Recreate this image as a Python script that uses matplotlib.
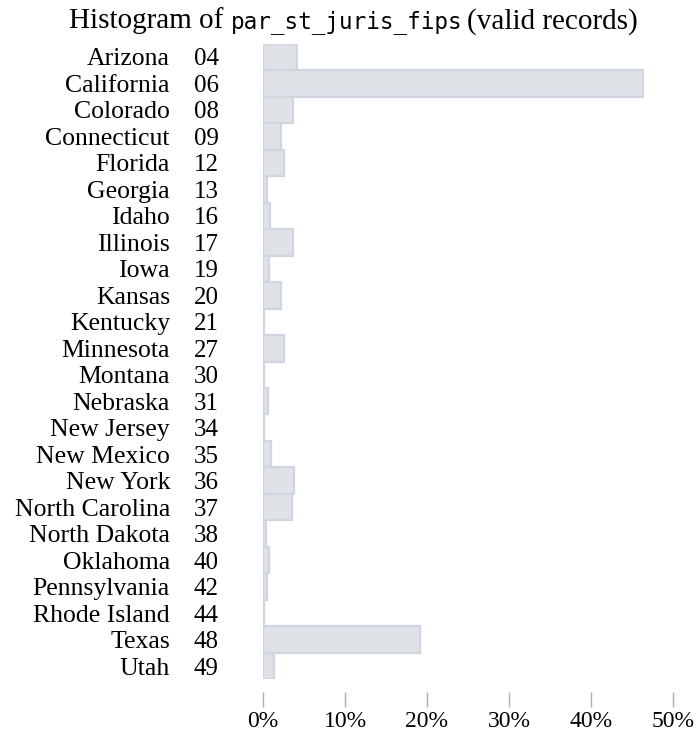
import matplotlib
matplotlib.use("Agg")
import matplotlib.pyplot as plt
import matplotlib.transforms as mtransforms

states = ["Arizona", "California", "Colorado", "Connecticut", "Florida", "Georgia",
          "Idaho", "Illinois", "Iowa", "Kansas", "Kentucky", "Minnesota", "Montana",
          "Nebraska", "New Jersey", "New Mexico", "New York", "North Carolina",
          "North Dakota", "Oklahoma", "Pennsylvania", "Rhode Island", "Texas", "Utah"]
codes = ["04", "06", "08", "09", "12", "13", "16", "17", "19", "20", "21", "27", "30",
         "31", "34", "35", "36", "37", "38", "40", "42", "44", "48", "49"]
pct = [4.2, 46.4, 3.7, 2.2, 2.5, 0.5, 0.9, 3.7, 0.7, 2.2, 0.15, 2.5, 0.1,
       0.6, 0.1, 1.0, 3.8, 3.5, 0.4, 0.7, 0.5, 0.1, 19.1, 1.3]
xticks = [0, 10, 20, 30, 40, 50]
xticklabels = ["0%", "10%", "20%", "30%", "40%", "50%"]
title_parts = ["Histogram of", "par_st_juris_fips", "(valid records)"]

serif = "Liberation Serif"
mono = "DejaVu Sans Mono"
plt.rcParams["font.family"] = serif

W, H = 697, 733
fig = plt.figure(figsize=(W / 100, H / 100), dpi=100)
ax_left, ax_right = 263, 673
ax_top, ax_bot = 43.7, 679.3
ax = fig.add_axes([ax_left / W, 1 - ax_bot / H, (ax_right - ax_left) / W, (ax_bot - ax_top) / H])

y = list(range(len(states)))
ax.barh(y, pct, height=1.0, color="#dfe3e8", edgecolor="#d0d6df", linewidth=1.6)
ax.set_ylim(len(states) - 0.5, -0.5)
ax.set_xlim(0, 50)

for s in ax.spines.values():
    s.set_visible(False)
ax.spines["bottom"].set_position(("outward", 9))

ax.set_xticks(xticks)
ax.set_xticklabels(xticklabels, fontsize=17)
ax.tick_params(axis="x", length=11, width=1, color="#b0b0b0", pad=3)

ax.set_yticks(y)
ax.set_yticklabels(codes, fontsize=18)
ax.tick_params(axis="y", length=0, pad=32)

trans = mtransforms.blended_transform_factory(fig.transFigure, ax.transData)
for yi, st in zip(y, states):
    ax.text(170 / W, yi, st, transform=trans, ha="right", va="center_baseline", fontsize=18.5)

tb = 1 - 28.5 / H
fig.text(69 / W, tb, title_parts[0], ha="left", va="baseline", fontsize=21)
fig.text(231 / W, tb, title_parts[1], ha="left", va="baseline", fontsize=16.3, family=mono)
fig.text(638 / W, tb, title_parts[2], ha="right", va="baseline", fontsize=21)

fig.savefig("out.png", dpi=100)
